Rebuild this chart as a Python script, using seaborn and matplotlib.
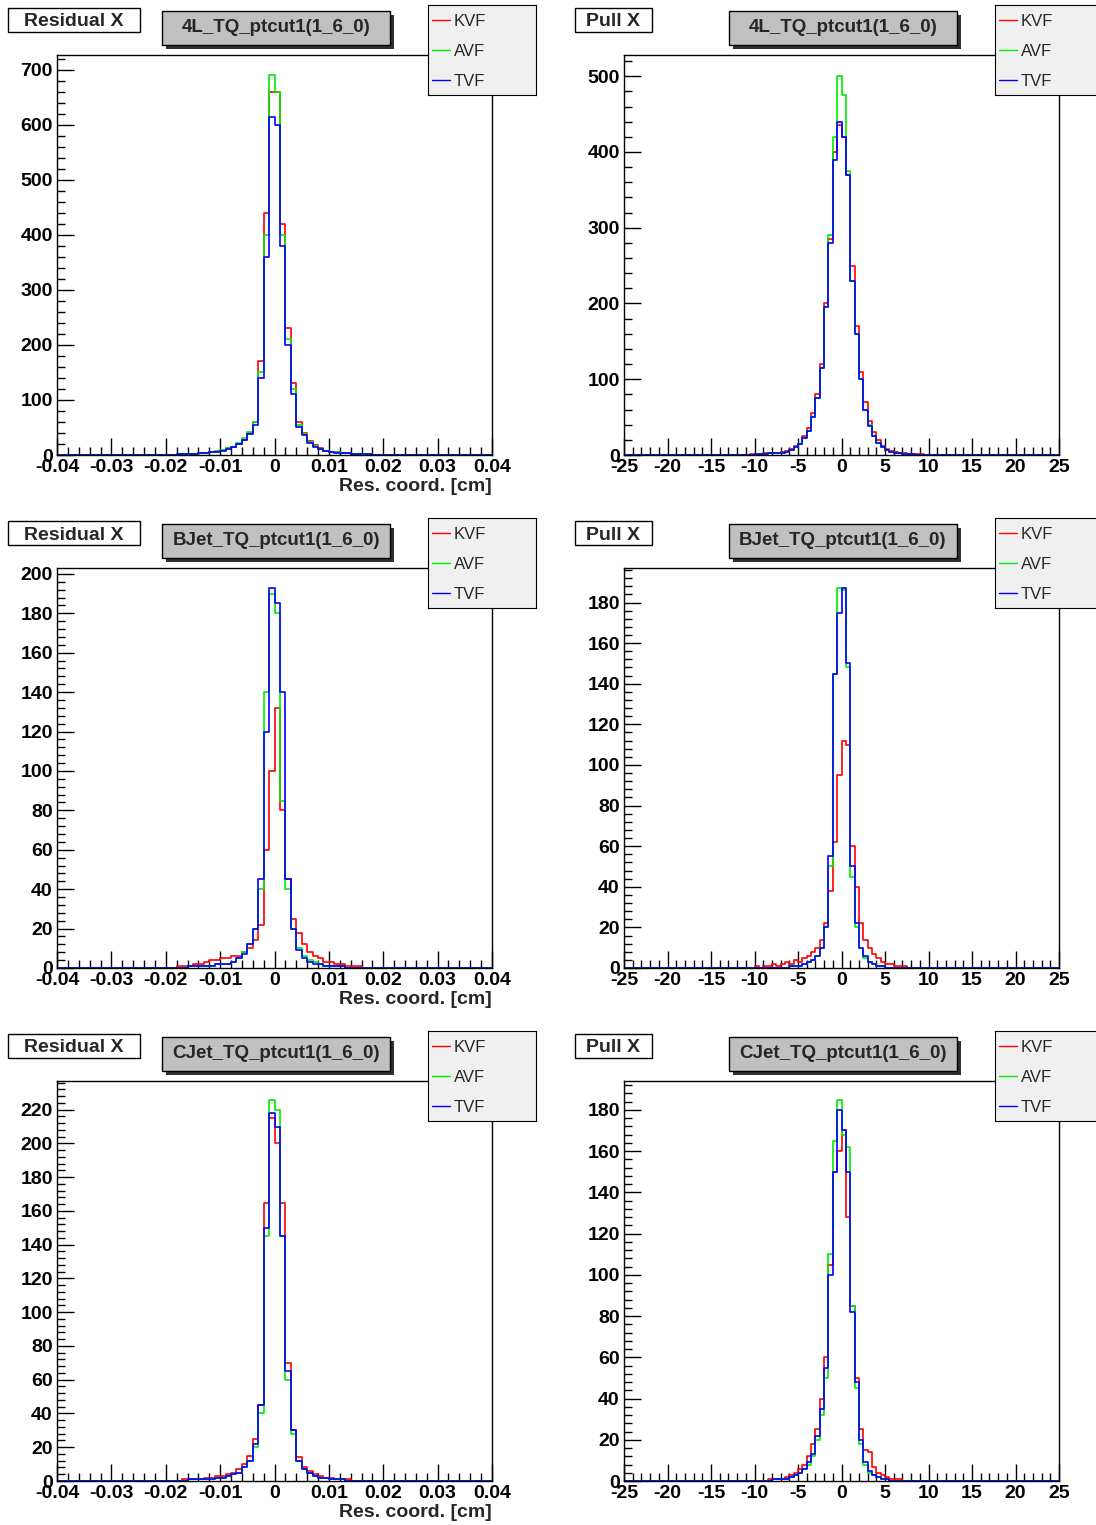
import numpy as np
import pandas as pd
import matplotlib
matplotlib.use("Agg")
import matplotlib.pyplot as plt
from matplotlib.patches import Rectangle
from matplotlib.ticker import MultipleLocator
import seaborn as sns

sns.set_style("white")
plt.rcParams['font.family'] = ['Liberation Sans', 'DejaVu Sans']
plt.rcParams['axes.unicode_minus'] = False

# residual bins: width 0.001, central 40 bins from -0.02 to 0.02
res_4l_kvf = [0,0,1,1,2,2,3,4,5,7, 9,12,15,20,28,40,60,170,440,660, 660,420,230,130,60,40,25,18,12,8, 6,5,4,3,2,2,1,1,0,0]
res_4l_avf = [0,0,1,1,2,2,3,4,5,7, 9,12,15,22,30,42,60,150,400,690, 660,400,210,120,55,38,24,17,11,8, 6,5,4,3,2,2,1,1,0,0]
res_4l_tvf = [0,0,1,1,2,2,3,3,5,6, 8,11,14,20,27,38,55,140,360,615, 600,380,200,110,50,36,22,15,10,7, 5,4,3,3,2,1,1,1,0,0]

res_bj_kvf = [0,0,1,1,1,2,2,3,4,4, 5,5,6,6,8,10,14,22,60,100, 132,80,45,25,18,12,8,6,5,3, 3,2,2,1,1,1,0,0,0,0]
res_bj_avf = [0,0,0,0,1,1,1,1,1,2, 2,2,3,5,8,12,20,40,140,190, 180,85,40,20,10,6,4,3,2,1, 1,1,1,0,0,0,0,0,0,0]
res_bj_tvf = [0,0,0,0,1,1,1,1,1,2, 2,2,3,5,7,12,20,45,120,193, 185,140,45,20,9,5,3,2,2,1, 1,1,1,0,0,0,0,0,0,0]

res_cj_kvf = [0,0,0,1,1,1,1,2,2,3, 3,4,5,7,10,15,25,45,165,215, 200,165,70,30,14,8,6,4,3,2, 2,1,1,1,0,0,0,0,0,0]
res_cj_avf = [0,0,0,0,1,1,1,1,1,2, 2,3,4,5,8,12,20,40,145,226, 220,145,60,28,12,7,5,3,2,2, 1,1,1,0,0,0,0,0,0,0]
res_cj_tvf = [0,0,0,0,1,1,1,1,1,2, 2,3,4,5,8,12,22,45,150,218, 210,145,65,30,12,7,5,3,2,2, 1,1,1,0,0,0,0,0,0,0]

# pull bins: width 0.5, central 48 bins from -12 to 12
pull_4l_kvf = [0,0,0,1,1,1,2,2,3,3, 4,5,8,12,15,25,35,55,80,120, 200,285,400,435, 420,370,250,170,110,70, 45,30,20,12,8,5,4,3,2,1, 1,1,1,0,0,0,0,0]
pull_4l_avf = [0,0,0,0,1,1,1,2,2,3, 3,4,6,10,14,22,32,50,75,115, 195,290,420,500, 475,375,230,160,100,60, 40,25,16,10,7,4,3,2,1,1, 1,0,0,0,0,0,0,0]
pull_4l_tvf = [0,0,0,0,1,1,1,2,2,3, 3,4,6,10,14,22,32,50,75,115, 195,280,390,440, 420,370,230,160,100,60, 38,25,16,10,7,4,3,2,1,1, 1,0,0,0,0,0,0,0]

pull_bj_kvf = [0,0,0,0,1,0,1,1,2,1, 2,3,2,4,3,5,6,8,10,14, 22,38,62,95, 112,110,60,40,22,14, 10,7,5,3,2,2,1,1,1,0, 0,0,0,0,0,0,0,0]
pull_bj_avf = [0,0,0,0,0,0,0,0,0,0, 0,0,1,1,1,2,3,4,6,10, 20,50,145,187, 186,148,45,20,10,5, 3,2,1,1,0,0,0,0,0,0, 0,0,0,0,0,0,0,0]
pull_bj_tvf = [0,0,0,0,0,0,0,0,0,0, 0,0,1,1,1,2,3,4,6,10, 20,55,145,175, 187,150,50,22,10,6, 3,2,1,1,0,0,0,0,0,0, 0,0,0,0,0,0,0,0]

pull_cj_kvf = [0,0,0,0,0,0,0,1,1,1, 1,2,3,4,6,8,12,18,25,40, 60,105,150,160, 170,128,85,50,25,15, 14,7,4,3,2,1,1,1,0,0, 0,0,0,0,0,0,0,0]
pull_cj_avf = [0,0,0,0,0,0,0,0,1,1, 1,1,2,3,4,6,8,12,20,32, 50,110,165,185, 168,162,85,45,18,8, 4,3,2,1,1,0,0,0,0,0, 0,0,0,0,0,0,0,0]
pull_cj_tvf = [0,0,0,0,0,0,0,0,1,1, 1,1,2,3,4,6,9,13,22,35, 55,100,150,180, 170,150,82,48,20,9, 5,3,2,1,1,0,0,0,0,0, 0,0,0,0,0,0,0,0]

samples = ["4L_TQ_ptcut1(1_6_0)", "BJet_TQ_ptcut1(1_6_0)", "CJet_TQ_ptcut1(1_6_0)"]
res_data = [(res_4l_kvf, res_4l_avf, res_4l_tvf), (res_bj_kvf, res_bj_avf, res_bj_tvf), (res_cj_kvf, res_cj_avf, res_cj_tvf)]
pull_data = [(pull_4l_kvf, pull_4l_avf, pull_4l_tvf), (pull_bj_kvf, pull_bj_avf, pull_bj_tvf), (pull_cj_kvf, pull_cj_avf, pull_cj_tvf)]
res_ylim = [727, 203, 237]
pull_ylim = [528, 197, 194]
res_major = [100, 20, 20]
pull_major = [100, 20, 20]
names = ["KVF", "AVF", "TVF"]
colors = ["#ff0000", "#00ee00", "#0000ff"]

W, H = 1096, 1525
fig = plt.figure(figsize=(W / 100, H / 100), dpi=100)


def fx(px):
    return px / W


def fy(py):
    return 1 - py / H


def panel(left_px, top_px, data, ylim, major, kind, sample):
    if kind == "res":
        edges = np.round(np.arange(-0.04, 0.04 + 1e-9, 0.001), 4)
        pad = 20
        xmaj, xmin, xl = 0.01, 0.002, (-0.04, 0.04)
        label = "Residual X"
    else:
        edges = np.arange(-25, 25 + 1e-9, 0.5)
        pad = 26
        xmaj, xmin, xl = 5, 1, (-25, 25)
        label = "Pull X"
    centers = (edges[:-1] + edges[1:]) / 2
    ax = fig.add_axes([fx(left_px), fy(top_px + 400), fx(435), 400 / H])
    for counts, c in zip(data, colors):
        w = np.concatenate([np.zeros(pad), counts, np.zeros(pad)])
        df = pd.DataFrame({"x": centers, "w": w})
        sns.histplot(data=df, x="x", weights="w", bins=list(edges), element="step", fill=False,
                     color=c, linewidth=1.2, ax=ax)
    ax.set_xlim(*xl)
    ax.set_ylim(0, ylim)
    ax.set_ylabel("")
    ax.xaxis.set_major_locator(MultipleLocator(xmaj))
    ax.xaxis.set_minor_locator(MultipleLocator(xmin))
    ax.yaxis.set_major_locator(MultipleLocator(major))
    ax.yaxis.set_minor_locator(MultipleLocator(major / 5))
    ax.tick_params(which="both", direction="in", top=False, right=False, bottom=True, left=True,
                   labelsize=14, width=1, colors="black", pad=3)
    ax.tick_params(which="major", length=12)
    ax.tick_params(which="minor", length=6)
    for s in ax.spines.values():
        s.set_color("black")
        s.set_linewidth(1)
    if kind == "res":
        ax.xaxis.set_major_formatter(plt.FuncFormatter(lambda v, p: f"{v:g}"))
        ax.set_xlabel("Res. coord. [cm]", fontsize=14, fontweight="bold", loc="right", labelpad=1)
    else:
        ax.set_xlabel("")
    for t in ax.get_xticklabels() + ax.get_yticklabels():
        t.set_fontweight("bold")
    ax.set_facecolor("white")

    # label box
    lx = left_px - 49
    bw = 132 if kind == "res" else 77
    fig.patches.append(Rectangle((fx(lx), fy(top_px - 23)), fx(bw), 24 / H,
                                 transform=fig.transFigure, facecolor="white", edgecolor="black", lw=1))
    fig.text(fx(lx + bw / 2), fy(top_px - 33), label, ha="center", va="center",
             fontsize=14, fontweight="bold")
    # title box with shadow
    tx = left_px + 105
    fig.patches.append(Rectangle((fx(tx + 4), fy(top_px - 6)), fx(228), 34 / H,
                                 transform=fig.transFigure, facecolor="#303030", edgecolor="none"))
    fig.patches.append(Rectangle((fx(tx), fy(top_px - 10)), fx(228), 34 / H,
                                 transform=fig.transFigure, facecolor="#c0c0c0", edgecolor="black", lw=1))
    fig.text(fx(tx + 114), fy(top_px - 28), sample, ha="center", va="center",
             fontsize=13.5, fontweight="bold")
    # legend box
    gx = left_px + 371
    lax = fig.add_axes([fx(gx), fy(top_px + 40), fx(108), 90 / H])
    lax.set_xlim(0, 108)
    lax.set_ylim(90, 0)
    lax.set_facecolor("#f0f0f0")
    lax.set_xticks([])
    lax.set_yticks([])
    for s in lax.spines.values():
        s.set_color("black")
    for i, (n, c) in enumerate(zip(names, colors)):
        yy = 15 + 30 * i
        lax.plot([4, 22], [yy, yy], color=c, lw=1)
        lax.text(26, yy + 1.5, n, va="center", fontsize=12)


for r in range(3):
    top = 55 + 513 * r
    panel(57, top, res_data[r], res_ylim[r], res_major[r], "res", samples[r])
    panel(624, top, pull_data[r], pull_ylim[r], pull_major[r], "pull", samples[r])

fig.savefig("out.png", dpi=100, facecolor="white")
